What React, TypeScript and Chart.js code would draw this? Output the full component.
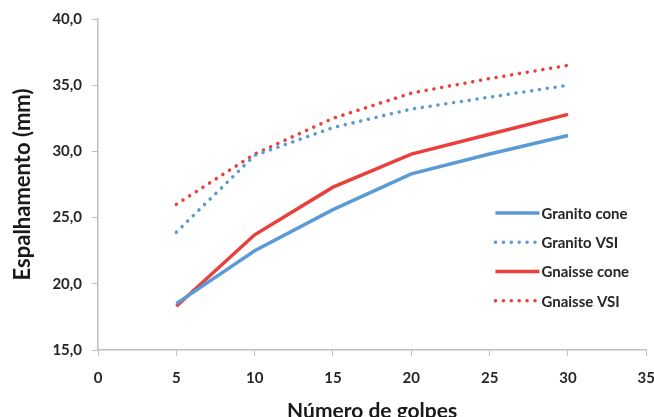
import React, { useEffect, useRef } from "react";
import { Chart, registerables } from "chart.js";

Chart.register(...registerables);

const golpes = [5, 10, 15, 20, 25, 30];
const granitoCone = [18.5, 22.5, 25.6, 28.3, 29.8, 31.2];
const granitoVSI = [23.9, 29.7, 31.8, 33.2, 34.1, 35.0];
const gnaisseCone = [18.3, 23.7, 27.3, 29.8, 31.3, 32.8];
const gnaisseVSI = [26.0, 29.8, 32.5, 34.4, 35.5, 36.5];
const seriesNames = ["Granito cone", "Granito VSI", "Gnaisse cone", "Gnaisse VSI"];

const BLUE = "#5B9BD5";
const RED = "#E9403C";
const FONT = "Lato, 'Open Sans', sans-serif";
const CANVAS_W = 668;
const CANVAS_H = 428;

const legendPlugin = {
  id: "insideLegend",
  afterDraw(chart: any) {
    const ctx = chart.ctx;
    const x0 = chart.scales.x.getPixelForValue(25.37);
    const yStart = chart.scales.y.getPixelForValue(25.35);
    const step = 29.3;
    ctx.save();
    chart.data.datasets.forEach((ds: any, i: number) => {
      const y = yStart + i * step;
      ctx.beginPath();
      ctx.strokeStyle = ds.borderColor;
      ctx.lineWidth = ds.borderWidth;
      ctx.lineCap = ds.borderDash && ds.borderDash.length ? "round" : "butt";
      ctx.setLineDash(ds.borderDash || []);
      ctx.moveTo(x0, y);
      ctx.lineTo(x0 + 44, y);
      ctx.stroke();
      ctx.setLineDash([]);
      ctx.fillStyle = "#262626";
      ctx.font = `bold 15px ${FONT}`;
      ctx.textBaseline = "middle";
      ctx.textAlign = "left";
      ctx.fillText(ds.label, x0 + 46, y + 1);
    });
    ctx.restore();
  },
};

export default function App() {
  const ref = useRef<HTMLCanvasElement>(null);
  useEffect(() => {
    const mk = (vals: number[]) => golpes.map((g, i) => ({ x: g, y: vals[i] }));
    const dotted = [0.1, 7.8];
    const chart = new Chart(ref.current!, {
      type: "line",
      data: {
        datasets: [
          { label: seriesNames[0], data: mk(granitoCone), borderColor: BLUE, borderWidth: 3.5, pointRadius: 0, tension: 0 },
          { label: seriesNames[1], data: mk(granitoVSI), borderColor: BLUE, borderWidth: 3.5, borderDash: dotted, borderCapStyle: "round", pointRadius: 0, tension: 0 },
          { label: seriesNames[2], data: mk(gnaisseCone), borderColor: RED, borderWidth: 3.5, pointRadius: 0, tension: 0 },
          { label: seriesNames[3], data: mk(gnaisseVSI), borderColor: RED, borderWidth: 3.5, borderDash: dotted, borderCapStyle: "round", pointRadius: 0, tension: 0 },
        ] as any,
      },
      options: {
        animation: false,
        responsive: false,
        maintainAspectRatio: false,
        layout: { padding: { left: 0, right: 0, top: 10, bottom: 0 } },
        plugins: { legend: { display: false }, tooltip: { enabled: false } },
        scales: {
          x: {
            type: "linear",
            min: 0,
            max: 35,
            afterFit: (s: any) => { s.height = CANVAS_H - 350; },
            ticks: { stepSize: 5, color: "#262626", font: { family: FONT, size: 15, weight: "bold" }, padding: 13 },
            grid: { drawOnChartArea: false, drawTicks: true, tickLength: 6, color: "#BFBFBF" },
            border: { color: "#BFBFBF", width: 1.5 },
            title: { display: true, text: "Número de golpes", color: "#1a1a1a", font: { family: FONT, size: 21, weight: "bold" }, padding: { top: 4, bottom: 4 } },
          },
          y: {
            min: 15,
            max: 40,
            afterFit: (s: any) => { s.width = 98; },
            ticks: {
              stepSize: 5,
              color: "#262626",
              font: { family: FONT, size: 15, weight: "bold" },
              padding: 10,
              callback: (v: any) => Number(v).toFixed(1).replace(".", ","),
            },
            grid: { drawOnChartArea: false, drawTicks: true, tickLength: 6, color: "#BFBFBF" },
            border: { color: "#BFBFBF", width: 1.5 },
            title: { display: true, text: "Espalhamento (mm)", color: "#1a1a1a", font: { family: FONT, size: 22, weight: "bold" }, padding: { top: 10, bottom: 4 } },
          },
        },
      },
      plugins: [legendPlugin],
    });
    return () => chart.destroy();
  }, []);
  return (
    <div style={{ position: "fixed", left: 0, top: 0, width: 654, height: 417, overflow: "hidden", background: "#fff" }}>
      <canvas ref={ref} width={CANVAS_W} height={CANVAS_H} style={{ display: "block" }} />
    </div>
  );
}
